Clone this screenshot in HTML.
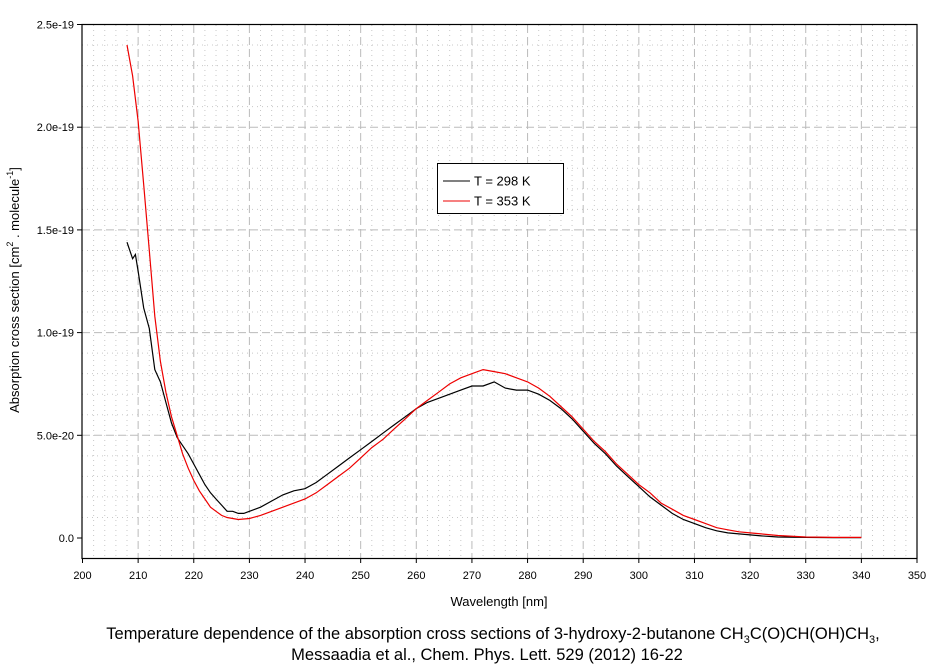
<!DOCTYPE html>
<html><head><meta charset="utf-8">
<style>
body{margin:0;background:#fff;width:942px;height:668px;overflow:hidden}
svg{display:block;font-family:"Liberation Sans",Arial,sans-serif}
</style></head>
<body>
<svg id="chart" width="942" height="668">
<g id="grid"></g>
<g id="series"></g>
<rect x="82" y="24.5" width="835" height="534" fill="none" stroke="#000" stroke-width="1.2"/>
<g id="axes"></g>
<text x="499" y="606" font-size="13" text-anchor="middle">Wavelength [nm]</text>
<text transform="translate(19,290) rotate(-90)" font-size="13" text-anchor="middle">Absorption cross section [cm<tspan font-size="9" dy="-6">2</tspan><tspan dy="6"> . molecule</tspan><tspan font-size="9" dy="-6">-1</tspan><tspan dy="6">]</tspan></text>
<g>
<rect x="437.5" y="163.5" width="126" height="50" fill="#fff" stroke="#000"/>
<line x1="443" y1="181" x2="470" y2="181" stroke="#000"/>
<text x="474" y="185.5" font-size="13">T = 298 K</text>
<line x1="443" y1="201" x2="470" y2="201" stroke="#e00"/>
<text x="474" y="205.5" font-size="13">T = 353 K</text>
</g>
<text x="493" y="639" font-size="16.5" text-anchor="middle">Temperature dependence of the absorption cross sections of 3-hydroxy-2-butanone CH<tspan font-size="11" dy="4">3</tspan><tspan dy="-4">C(O)CH(OH)CH</tspan><tspan font-size="11" dy="4">3</tspan><tspan dy="-4">,</tspan></text>
<text x="487" y="660" font-size="16.5" text-anchor="middle">Messaadia et al., Chem. Phys. Lett. 529 (2012) 16-22</text>
</svg>
<script>
const xTicks=[200,210,220,230,240,250,260,270,280,290,300,310,320,330,340,350];
const yTicks=[0,0.5,1.0,1.5,2.0,2.5];
const yTickLabels=["0.0","5.0e-20","1.0e-19","1.5e-19","2.0e-19","2.5e-19"];
const wl298=[208,209,209.5,210,211,212,213,214,215,216,217,218,219,220,221,222,223,224,225,226,227,228,229,230,232,234,236,238,240,242,244,246,248,250,252,254,256,258,260,262,264,266,268,270,272,274,276,278,280,282,284,286,288,290,292,294,296,298,300,302,304,306,308,310,312,314,316,318,320,322,325,330,335,340];
const sig298=[1.44,1.36,1.38,1.30,1.12,1.02,0.82,0.76,0.66,0.56,0.49,0.45,0.41,0.36,0.31,0.26,0.22,0.19,0.16,0.13,0.13,0.12,0.12,0.13,0.15,0.18,0.21,0.23,0.24,0.27,0.31,0.35,0.39,0.43,0.47,0.51,0.55,0.59,0.63,0.66,0.68,0.70,0.72,0.74,0.74,0.76,0.73,0.72,0.72,0.70,0.67,0.63,0.58,0.52,0.46,0.41,0.35,0.30,0.25,0.20,0.16,0.12,0.09,0.07,0.05,0.035,0.025,0.02,0.015,0.01,0.005,0.003,0.002,0.002];
const wl353=[208,209,210,211,212,213,214,215,216,217,218,219,220,221,222,223,224,225,226,228,230,232,234,236,238,240,242,244,246,248,250,252,254,256,258,260,262,264,266,268,270,272,274,276,278,280,282,284,286,288,290,292,294,296,298,300,302,304,306,308,310,312,314,316,318,320,322,325,330,335,340];
const sig353=[2.40,2.25,2.03,1.72,1.40,1.08,0.86,0.71,0.59,0.50,0.41,0.34,0.28,0.23,0.19,0.15,0.13,0.11,0.10,0.09,0.095,0.11,0.13,0.15,0.17,0.19,0.22,0.26,0.30,0.34,0.39,0.44,0.48,0.53,0.58,0.63,0.67,0.71,0.75,0.78,0.80,0.82,0.81,0.80,0.78,0.76,0.73,0.69,0.64,0.59,0.53,0.47,0.42,0.36,0.31,0.26,0.22,0.17,0.14,0.11,0.09,0.07,0.05,0.04,0.03,0.025,0.02,0.012,0.005,0.003,0.003];
const NS="http://www.w3.org/2000/svg";
const X=v=>82.5+(v-200)*(917-82.5)/150;
const Y=v=>538-v*205.4;
function mk(tag,attrs,parent){const e=document.createElementNS(NS,tag);for(const k in attrs)e.setAttribute(k,attrs[k]);parent.appendChild(e);return e;}
const grid=document.getElementById('grid'),axes=document.getElementById('axes'),series=document.getElementById('series');
for(let v=202;v<350;v+=2){if(v%10===0)continue;const l=mk('line',{x1:X(v),x2:X(v),y1:25,y2:558,stroke:'#c8c8c8','stroke-dasharray':'1,4'},grid);

}
for(let i=1;i<25;i++){if(i%5===0)continue;const v=i/10;const l=mk('line',{x1:82,x2:917,y1:Y(v),y2:Y(v),stroke:'#c8c8c8','stroke-dasharray':'1,4'},grid);

}
xTicks.forEach(t=>{if(t>200&&t<350){const l=mk('line',{x1:X(t),x2:X(t),y1:25,y2:558,stroke:'#bbb','stroke-dasharray':'8,4'},grid);

}
const tk=mk('line',{x1:X(t),x2:X(t),y1:558,y2:563,stroke:'#000'},axes);


const tx=mk('text',{x:X(t),y:579,'font-size':11,'text-anchor':'middle'},axes);tx.textContent=t;

});
yTicks.forEach((t,i)=>{if(i>0&&i<yTicks.length-1){const l=mk('line',{x1:82,x2:917,y1:Y(t),y2:Y(t),stroke:'#bbb','stroke-dasharray':'8,4'},grid);

}
const tk=mk('line',{x1:77,x2:82,y1:Y(t),y2:Y(t),stroke:'#000'},axes);


const tx=mk('text',{x:74,y:Y(t)+4,'font-size':11,'text-anchor':'end'},axes);tx.textContent=yTickLabels[i];

});
function line(wl,sg,color,name){const d=wl.map((w,i)=>(i?'L':'M')+X(w).toFixed(1)+','+Y(sg[i]).toFixed(1)).join('');
const p=mk('path',{d:d,fill:'none',stroke:color,'stroke-width':1.2},series);

}
line(wl298,sig298,'#000','series-298k');
line(wl353,sig353,'#e00','series-353k');
</script>
</body></html>
